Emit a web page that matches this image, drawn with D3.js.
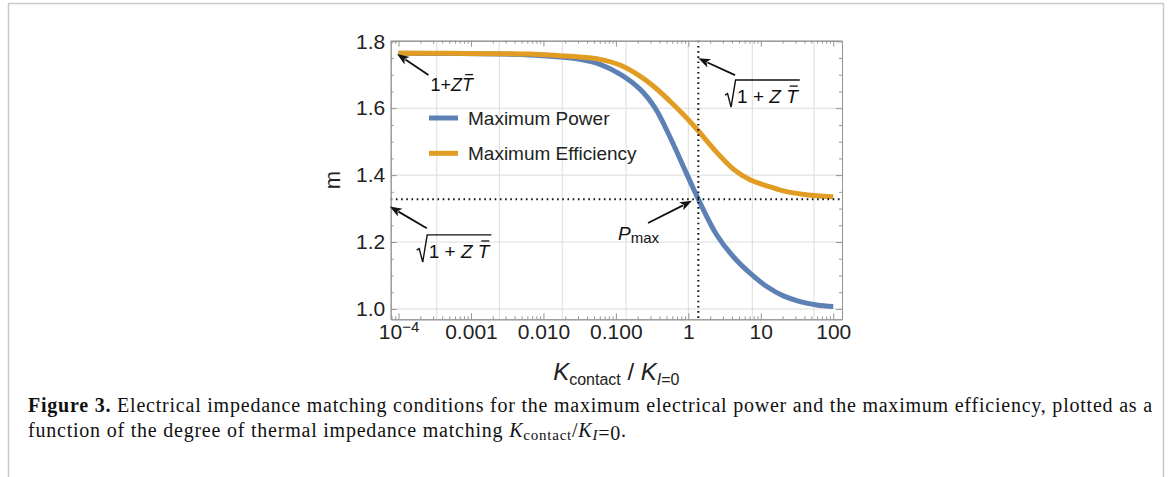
<!DOCTYPE html>
<html><head><meta charset="utf-8">
<script src="https://cdn.jsdelivr.net/npm/d3@7"></script>
<style>body{margin:0;background:#fff;} svg{display:block;}</style>
</head><body><svg id="c" width="1170" height="477"></svg>
<script>
// ---------------- data ----------------
const kRatio      = [1e-4, 5.15e-4, 2.52e-3, 6.55e-3, 0.0169, 0.032, 0.0604, 0.114, 0.215, 0.347, 0.558, 0.9, 1.374, 2.47, 4.18, 7.11, 12.1, 20.5, 34.8, 59.2, 100];
const mPower      = [1.764, 1.7635, 1.762, 1.759, 1.753, 1.746, 1.731, 1.702, 1.657, 1.601, 1.514, 1.415, 1.328, 1.221, 1.156, 1.107, 1.067, 1.039, 1.022, 1.012, 1.007];
const mEfficiency = [1.764, 1.764, 1.763, 1.762, 1.757, 1.753, 1.746, 1.729, 1.696, 1.662, 1.621, 1.576, 1.532, 1.468, 1.418, 1.386, 1.368, 1.353, 1.344, 1.338, 1.335];
const seriesNames  = ["Maximum Power", "Maximum Efficiency"];
const seriesColors = ["#5E81B5", "#E19C24"];
const xTickValues = [1e-4, 1e-3, 0.01, 0.1, 1, 10, 100];
const xTickLabels = ["10^-4", "0.001", "0.010", "0.100", "1", "10", "100"];
const yTickValues = [1.0, 1.2, 1.4, 1.6, 1.8];
const yTickLabels = ["1.0", "1.2", "1.4", "1.6", "1.8"];
const xGridValues = [3.37e-4, 2.46e-3, 0.0182, 0.138, 1, 7.64, 54.3];
const yGridValues = [1.0, 1.2, 1.4, 1.6, 1.8];
const pmaxK = 1.374;          // vertical dotted line
const sqrtLevel = 1.328;      // horizontal dotted line
const xDomain = [Math.pow(10, -4.108), Math.pow(10, 2.121)];
const yDomain = [0.969, 1.8018];
// annotation arrows [tipK, tipM, tailK, tailM]
const arrows = [
  [Math.pow(10, -4.02), 1.762, Math.pow(10, -3.587), 1.699],
  [Math.pow(10, 0.138), 1.749, Math.pow(10, 0.645), 1.699],
  [Math.pow(10, -4.12), 1.306, Math.pow(10, -3.61), 1.241],
  [Math.pow(10, 0.05), 1.323, Math.pow(10, -0.556), 1.257]
];

// ---------------- setup ----------------
const svg = d3.select("#c");
const W = 1170, H = 477;
const plot = {l: 390.7, r: 842, t: 40.7, b: 319.3};
const x = d3.scaleLog().domain(xDomain).range([plot.l, plot.r]);
const y = d3.scaleLinear().domain(yDomain).range([plot.b, plot.t]);
const SANS = "'Liberation Sans', Arial, sans-serif";
const SERIF = "'Liberation Serif', 'Times New Roman', serif";
const frameCol = "#959595";

// outer page border
svg.append("path").attr("d", `M8.5,${H+5}V3.5H1163.5V${H+5}`)
  .attr("fill", "none").attr("stroke", "#c9c9c9").attr("stroke-width", 1.5);

// grid
const grid = svg.append("g");
grid.selectAll("line.gx").data(xGridValues).join("line")
  .attr("x1", d => x(d)).attr("x2", d => x(d)).attr("y1", plot.t).attr("y2", plot.b)
  .attr("stroke", "#dcdcdc").attr("stroke-width", 1);
grid.selectAll("line.gy").data(yGridValues).join("line")
  .attr("y1", d => y(d)).attr("y2", d => y(d)).attr("x1", plot.l).attr("x2", plot.r)
  .attr("stroke", "#dcdcdc").attr("stroke-width", 1);

// curves
const line = d3.line().x(d => x(d[0])).y(d => y(d[1])).curve(d3.curveCatmullRom.alpha(0.5));
[mPower, mEfficiency].forEach((vals, i) => {
  svg.append("path").datum(kRatio.map((k, j) => [k, vals[j]]))
    .attr("d", line).attr("fill", "none").attr("stroke", seriesColors[i])
    .attr("stroke-width", 5).attr("stroke-linejoin", "round");
});

// dotted lines
svg.append("line").attr("x1", x(pmaxK)).attr("x2", x(pmaxK)).attr("y1", plot.t).attr("y2", plot.b)
  .attr("stroke", "#111").attr("stroke-width", 2).attr("stroke-dasharray", "1.6,3.6");
svg.append("line").attr("y1", y(sqrtLevel)).attr("y2", y(sqrtLevel)).attr("x1", plot.l).attr("x2", plot.r)
  .attr("stroke", "#111").attr("stroke-width", 2).attr("stroke-dasharray", "1.6,3.6");

// axes / frame
const xMinor = [], yMinor = [];
for (let e = -5; e <= 2; e++) for (let m = 2; m <= 9; m++) {
  const v = m * Math.pow(10, e);
  if (v >= xDomain[0] && v <= xDomain[1]) xMinor.push(v);
}
for (let v = 0.95; v < 1.81; v += 0.05) {
  const r = Math.round(v * 100) / 100;
  if (r >= yDomain[0] && r <= yDomain[1] && Math.round(r * 100) % 20 !== 0) yMinor.push(r);
}
function styleAxis(g) {
  g.selectAll("path,line").attr("stroke", frameCol).attr("stroke-width", 1);
  g.selectAll("text").attr("fill", "#222").style("font-family", SANS).style("font-size", "21px");
}
const axB = svg.append("g").attr("transform", `translate(0,${plot.b})`)
  .call(d3.axisBottom(x).tickValues(xTickValues).tickSize(-6).tickSizeOuter(0).tickPadding(4.5)
    .tickFormat((d, i) => xTickLabels[i])).call(styleAxis);
svg.append("g").attr("transform", `translate(0,${plot.b})`)
  .call(d3.axisBottom(x).tickValues(xMinor).tickSize(-3).tickSizeOuter(0).tickFormat("")).call(styleAxis);
svg.append("g").attr("transform", `translate(0,${plot.t})`)
  .call(d3.axisTop(x).tickValues(xTickValues).tickSize(-6).tickSizeOuter(0).tickFormat("")).call(styleAxis);
svg.append("g").attr("transform", `translate(0,${plot.t})`)
  .call(d3.axisTop(x).tickValues(xMinor).tickSize(-3).tickSizeOuter(0).tickFormat("")).call(styleAxis);
svg.append("g").attr("transform", `translate(${plot.l},0)`)
  .call(d3.axisLeft(y).tickValues(yTickValues).tickSize(-6).tickSizeOuter(0).tickPadding(5.5)
    .tickFormat((d, i) => yTickLabels[i])).call(styleAxis);
svg.append("g").attr("transform", `translate(${plot.l},0)`)
  .call(d3.axisLeft(y).tickValues(yMinor).tickSize(-3).tickSizeOuter(0).tickFormat("")).call(styleAxis);
svg.append("g").attr("transform", `translate(${plot.r},0)`)
  .call(d3.axisRight(y).tickValues(yTickValues).tickSize(-6).tickSizeOuter(0).tickFormat("")).call(styleAxis);
svg.append("g").attr("transform", `translate(${plot.r},0)`)
  .call(d3.axisRight(y).tickValues(yMinor).tickSize(-3).tickSizeOuter(0).tickFormat("")).call(styleAxis);
// superscript label for 10^-4
axB.selectAll(".tick text").filter((d, i) => i === 0).each(function () {
  const t = d3.select(this); t.text("");
  t.append("tspan").text("10");
  t.append("tspan").attr("dy", "-0.45em").style("font-size", "15px").text("\u22124");
});

// axis titles
svg.append("text").attr("transform", `translate(340,${(plot.t + plot.b) / 2}) rotate(-90)`)
  .attr("text-anchor", "middle").style("font-family", SANS).style("font-size", "22px")
  .attr("fill", "#222").text("m");
const xl = svg.append("text").attr("x", (plot.l + plot.r) / 2).attr("y", 380).attr("text-anchor", "middle")
  .style("font-family", SANS).style("font-size", "24px").attr("fill", "#222");
xl.append("tspan").style("font-style", "italic").text("K");
xl.append("tspan").attr("dy", 5).style("font-size", "16px").text("contact");
xl.append("tspan").attr("dy", -5).text(" / ");
xl.append("tspan").style("font-style", "italic").text("K");
xl.append("tspan").attr("dy", 5).style("font-size", "16px").style("font-style", "italic").text("I");
xl.append("tspan").style("font-size", "16px").text("=0");

// legend
const leg = svg.append("g");
seriesNames.forEach((n, i) => {
  const ly = 118 + i * 35.3;
  leg.append("line").attr("x1", 429).attr("x2", 458).attr("y1", ly).attr("y2", ly)
    .attr("stroke", seriesColors[i]).attr("stroke-width", 5);
  leg.append("text").attr("x", 468).attr("y", ly).attr("dy", "0.35em")
    .style("font-family", SANS).style("font-size", "19px").attr("fill", "#222").text(n);
});

// arrows
arrows.forEach(a => {
  const x1 = x(a[2]), y1 = y(a[3]), x2 = x(a[0]), y2 = y(a[1]);
  const ang = Math.atan2(y2 - y1, x2 - x1);
  const L = 12, Wd = 4.5;
  const bx = x2 - L * Math.cos(ang), by = y2 - L * Math.sin(ang);
  svg.append("line").attr("x1", x1).attr("y1", y1).attr("x2", bx + 2 * Math.cos(ang)).attr("y2", by + 2 * Math.sin(ang))
    .attr("stroke", "#111").attr("stroke-width", 1.8);
  const p = [[x2, y2],
    [bx + Wd * Math.sin(ang), by - Wd * Math.cos(ang)],
    [x2 - 0.75 * L * Math.cos(ang), y2 - 0.75 * L * Math.sin(ang)],
    [bx - Wd * Math.sin(ang), by + Wd * Math.cos(ang)]];
  svg.append("path").attr("d", "M" + p.map(q => q.join(",")).join("L") + "Z").attr("fill", "#111");
});

// math labels
function mathRun(g, x0, base, parts, size) {
  let cx = x0;
  parts.forEach(pt => {
    const t = g.append("text").attr("x", cx).attr("y", base).style("font-family", SANS)
      .style("font-size", size + "px").style("font-style", pt.it ? "italic" : "normal")
      .attr("fill", "#111").attr("xml:space", "preserve").style("white-space", "pre").text(pt.t);
    const w = t.node().getComputedTextLength();
    if (pt.bar) {
      g.append("line").attr("x1", cx + w * 0.3).attr("x2", cx + w * 1.0)
        .attr("y1", base - size * 0.9).attr("y2", base - size * 0.9)
        .attr("stroke", "#111").attr("stroke-width", 1.3);
    }
    cx += w;
  });
  return cx;
}
function sqrtLabel(x0, base, size) {
  const g = svg.append("g");
  const end = mathRun(g, x0 + 12, base,
    [{t: "1 + "}, {t: "Z", it: true}, {t: " "}, {t: "T", it: true, bar: true}], size);
  const top = base - size * 1.22;
  g.append("path").attr("d",
    `M${x0},${base - 8}L${x0 + 2.5},${base - 9.5}L${x0 + 6},${base + 4}L${x0 + 10.5},${top}H${end + 2}`)
    .attr("fill", "none").attr("stroke", "#111").attr("stroke-width", 1.4).attr("stroke-linejoin", "miter");
}
mathRun(svg.append("g"), x(Math.pow(10, -3.56)), y(1.652),
  [{t: "1+"}, {t: "Z", it: true}, {t: "T", it: true, bar: true}], 18);
sqrtLabel(x(Math.pow(10, 0.507)), y(1.615), 19);
sqrtLabel(x(Math.pow(10, -3.749)), y(1.152), 19);
const pm = svg.append("text").attr("x", x(Math.pow(10, -0.97))).attr("y", y(1.206))
  .style("font-family", SANS).style("font-size", "19px").attr("fill", "#111");
pm.append("tspan").style("font-style", "italic").text("P");
pm.append("tspan").attr("dy", 3).style("font-size", "15px").text("max");

// caption
function captionLine(base, parts) {
  const t = svg.append("text").attr("x", 28).attr("y", base).style("font-family", SERIF)
    .style("font-size", "20px").attr("fill", "#111");
  parts.forEach(p => {
    const s = t.append("tspan").text(p.t);
    if (p.b) s.style("font-weight", "bold");
    if (p.it) s.style("font-style", "italic");
    if (p.sub) s.attr("dy", 3).style("font-size", "15px");
    if (p.up) s.attr("dy", -3);
  });
  return t;
}
const cap1 = captionLine(412, [{t: "Figure 3.", b: true},
  {t: " Electrical impedance matching conditions for the maximum electrical power and the maximum efficiency, plotted as a"}]);
const cap2 = captionLine(437, [{t: "function of the degree of thermal impedance matching "},
  {t: "K", it: true}, {t: "contact", sub: true}, {t: "/", up: true}, {t: "K", it: true},
  {t: "I", it: true, sub: true}, {t: "=0"}, {t: ".", up: true}]);
const w1 = cap1.node().getComputedTextLength();
const n1 = cap1.text().length - 1;
const ls = (1124 - w1) / n1;
cap1.style("letter-spacing", ls + "px");
cap2.style("letter-spacing", ls + "px");
</script></body></html>
